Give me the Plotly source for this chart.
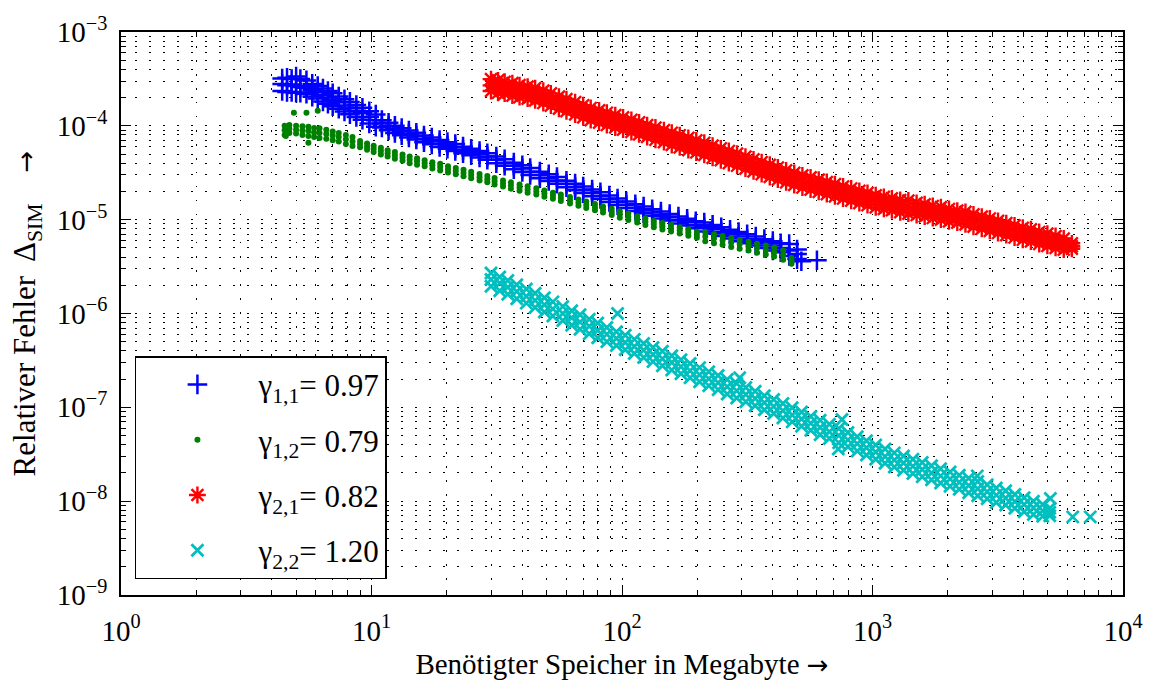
import plotly.graph_objects as go

# ---------------- data ----------------
legend_names = ["γ<sub>1,1</sub>= 0.97", "γ<sub>1,2</sub>= 0.79",
                "γ<sub>2,1</sub>= 0.82", "γ<sub>2,2</sub>= 1.20"]
series_colors = ["#0000FF", "#008000", "#FF0000", "#00BFBF"]

x_tickvals = [1, 10, 100, 1000, 10000]
x_ticktext = ["10<sup>0</sup>", "10<sup>1</sup>", "10<sup>2</sup>", "10<sup>3</sup>", "10<sup>4</sup>"]
y_tickvals = [1e-9, 1e-8, 1e-7, 1e-6, 1e-5, 1e-4, 1e-3]
y_ticktext = ["10<sup>−9</sup>", "10<sup>−8</sup>", "10<sup>−7</sup>", "10<sup>−6</sup>",
              "10<sup>−5</sup>", "10<sup>−4</sup>", "10<sup>−3</sup>"]
x_minor = [m * 10 ** k for k in range(0, 4) for m in range(2, 10)]
y_minor = [m * 10.0 ** k for k in range(-9, -3) for m in range(2, 10)]

# each row: memory x (MB), then the error values read at that x (upper / middle / lower part of the band)
blue_rows = [
    (4.4, 3.2e-4, 2.8e-4, 2.35e-4), (4.6, 3.25e-4, 2.7e-4, 2.3e-4), (4.8, 3.15e-4, 2.75e-4, 2.3e-4),
    (5.0, 3.35e-4, 2.65e-4, 2.25e-4), (5.2, 3.15e-4, 2.6e-4, 2.25e-4), (5.5, 3.05e-4, 2.55e-4, 2.2e-4),
    (5.8, 2.8e-4, 2.4e-4, 2.05e-4), (6.1, 2.65e-4, 2.3e-4, 1.95e-4), (6.4, 2.5e-4, 2.15e-4, 1.82e-4),
    (6.7, 2.35e-4, 2.0e-4, 1.72e-4), (7.0, 2.22e-4, 1.9e-4, 1.62e-4), (7.4, 2.05e-4, 1.78e-4, 1.52e-4),
    (7.8, 1.92e-4, 1.65e-4, 1.42e-4), (8.2, 1.8e-4, 1.55e-4, 1.33e-4), (8.7, 1.67e-4, 1.45e-4, 1.24e-4),
    (9.2, 1.56e-4, 1.36e-4, 1.16e-4), (9.8, 1.43e-4, 1.24e-4, 1.06e-4), (10.4, 1.32e-4, 1.15e-4, 9.8e-5),
    (11.0, 1.15e-4, 1.06e-4, 9.6e-5), (11.7, 1.08e-4, 9.9e-5, 9.0e-5), (12.4, 1.0e-4, 9.2e-5, 8.4e-5),
    (13.2, 9.45e-5, 8.7e-5, 7.95e-5), (14.1, 8.9e-5, 8.2e-5, 7.5e-5), (15.1, 8.45e-5, 7.8e-5, 7.15e-5),
    (16.2, 7.9e-5, 7.3e-5, 6.7e-5), (17.4, 7.5e-5, 6.9e-5, 6.35e-5), (18.7, 7.05e-5, 6.5e-5, 5.95e-5),
    (20.1, 6.7e-5, 6.2e-5, 5.7e-5), (21.6, 6.4e-5, 5.9e-5, 5.4e-5), (23.2, 6.0e-5, 5.55e-5, 5.1e-5),
    (25, 5.7e-5, 5.25e-5, 4.85e-5), (27, 5.4e-5, 5.0e-5, 4.6e-5), (29, 5.1e-5, 4.7e-5, 4.35e-5),
    (31.5, 4.7e-5, 4.35e-5, 4.0e-5), (34, 4.4e-5, 4.05e-5, 3.75e-5), (37, 4.05e-5, 3.75e-5, 3.45e-5),
    (40, 3.8e-5, 3.5e-5, 3.22e-5), (43, 3.55e-5, 3.25e-5, 3.0e-5), (47, 3.25e-5, 3.0e-5, 2.77e-5),
    (51, 3.05e-5, 2.8e-5, 2.58e-5), (55, 2.85e-5, 2.62e-5, 2.42e-5), (60, 2.6e-5, 2.4e-5, 2.22e-5),
    (65, 2.42e-5, 2.23e-5, 2.06e-5), (70, 2.26e-5, 2.08e-5, 1.92e-5), (76, 2.1e-5, 1.93e-5, 1.78e-5),
    (82, 1.96e-5, 1.8e-5, 1.66e-5), (89, 1.81e-5, 1.67e-5, 1.54e-5), (96, 1.68e-5, 1.55e-5, 1.43e-5),
    (104, 1.56e-5, 1.44e-5, 1.33e-5), (113, 1.46e-5, 1.34e-5, 1.24e-5), (122, 1.38e-5, 1.27e-5, 1.17e-5),
    (132, 1.29e-5, 1.19e-5, 1.1e-5), (143, 1.22e-5, 1.12e-5, 1.03e-5), (155, 1.15e-5, 1.06e-5, 9.8e-6),
    (168, 1.08e-5, 9.9e-6, 9.1e-6), (182, 1.02e-5, 9.4e-6, 8.65e-6), (197, 9.6e-6, 8.8e-6, 8.1e-6),
    (213, 9.3e-6, 8.3e-6, 7.5e-6), (230, 8.8e-6, 7.9e-6, 7.1e-6), (249, 8.3e-6, 7.4e-6, 6.7e-6),
    (270, 7.8e-6, 7.0e-6, 6.3e-6), (292, 7.4e-6, 6.6e-6, 5.9e-6), (316, 7.0e-6, 6.2e-6, 5.6e-6),
    (342, 6.6e-6, 5.9e-6, 5.3e-6), (370, 6.2e-6, 5.6e-6, 5.0e-6), (400, 5.9e-6, 5.3e-6, 4.7e-6),
    (430, 5.6e-6, 5.0e-6, 4.5e-6), (465, 5.5e-6, 4.7e-6, 4.1e-6), (500, 4.8e-6, 4.3e-6, 3.8e-6),
    (520, 3.6e-6), (600, 3.7e-6),
]

green_rows = [
    (4.5, 1.0e-4, 9.0e-5, 8.0e-5), (4.55, 7.8e-5), (4.7, 1.02e-4, 9.3e-5, 8.4e-5), (4.9, 1.38e-4),
    (5.0, 1.0e-4, 9.1e-5, 8.3e-5), (5.3, 9.9e-5, 8.9e-5, 8.0e-5), (5.5, 1.38e-4),
    (5.6, 9.8e-5, 8.8e-5, 7.8e-5, 6.6e-5), (5.9, 9.5e-5, 8.5e-5, 7.6e-5), (6.1, 1.45e-4),
    (6.2, 9.4e-5, 8.4e-5, 7.4e-5), (6.6, 9.1e-5, 8.2e-5, 7.3e-5), (7.0, 8.7e-5, 7.9e-5, 7.0e-5),
    (7.4, 8.4e-5, 7.6e-5, 6.8e-5), (7.9, 8.0e-5, 7.2e-5, 6.4e-5), (8.4, 7.6e-5, 6.8e-5, 6.1e-5),
    (9.0, 6.9e-5, 6.4e-5, 5.9e-5), (9.6, 6.5e-5, 6.0e-5, 5.55e-5), (10.2, 6.15e-5, 5.7e-5, 5.25e-5),
    (10.9, 5.85e-5, 5.4e-5, 4.95e-5), (11.6, 5.5e-5, 5.1e-5, 4.7e-5), (12.4, 5.25e-5, 4.85e-5, 4.45e-5),
    (13.3, 4.95e-5, 4.6e-5, 4.25e-5), (14.2, 4.7e-5, 4.35e-5, 4.0e-5), (15.2, 4.5e-5, 4.2e-5, 3.85e-5),
    (16.3, 4.3e-5, 4.0e-5, 3.7e-5), (17.5, 4.1e-5, 3.8e-5, 3.5e-5), (18.8, 3.95e-5, 3.65e-5, 3.35e-5),
    (20.2, 3.72e-5, 3.45e-5, 3.18e-5), (21.7, 3.55e-5, 3.3e-5, 3.05e-5), (23.3, 3.4e-5, 3.15e-5, 2.9e-5),
    (25, 3.24e-5, 3.0e-5, 2.77e-5), (27, 3.06e-5, 2.84e-5, 2.62e-5), (29, 2.92e-5, 2.7e-5, 2.5e-5),
    (31, 2.78e-5, 2.57e-5, 2.37e-5), (33.5, 2.62e-5, 2.43e-5, 2.25e-5), (36, 2.5e-5, 2.32e-5, 2.14e-5),
    (39, 2.37e-5, 2.2e-5, 2.03e-5), (42, 2.27e-5, 2.1e-5, 1.94e-5), (45.5, 2.16e-5, 2.0e-5, 1.85e-5),
    (49, 2.05e-5, 1.9e-5, 1.76e-5), (53, 1.94e-5, 1.8e-5, 1.67e-5), (57, 1.85e-5, 1.71e-5, 1.58e-5),
    (62, 1.74e-5, 1.61e-5, 1.49e-5), (67, 1.64e-5, 1.52e-5, 1.41e-5), (72, 1.56e-5, 1.44e-5, 1.33e-5),
    (78, 1.47e-5, 1.36e-5, 1.26e-5), (84, 1.38e-5, 1.28e-5, 1.19e-5), (91, 1.31e-5, 1.21e-5, 1.12e-5),
    (98, 1.23e-5, 1.14e-5, 1.05e-5), (106, 1.16e-5, 1.07e-5, 9.9e-6), (115, 1.09e-5, 1.01e-5, 9.35e-6),
    (124, 1.03e-5, 9.5e-6, 8.8e-6), (134, 9.7e-6, 9.0e-6, 8.3e-6), (145, 9.2e-6, 8.5e-6, 7.85e-6),
    (157, 8.75e-6, 8.1e-6, 7.5e-6), (170, 8.3e-6, 7.7e-6, 7.1e-6), (184, 7.9e-6, 7.3e-6, 6.75e-6),
    (199, 7.45e-6, 6.9e-6, 6.4e-6), (215, 7.4e-6, 6.6e-6, 5.9e-6), (233, 7.0e-6, 6.3e-6, 5.6e-6),
    (252, 6.7e-6, 6.0e-6, 5.4e-6), (273, 6.4e-6, 5.7e-6, 5.1e-6), (295, 6.1e-6, 5.5e-6, 4.9e-6),
    (320, 5.8e-6, 5.2e-6, 4.7e-6), (346, 5.55e-6, 5.0e-6, 4.45e-6), (375, 5.3e-6, 4.75e-6, 4.25e-6),
    (405, 5.05e-6, 4.5e-6, 4.05e-6), (440, 4.7e-6, 4.2e-6, 3.75e-6), (475, 3.9e-6, 3.6e-6, 3.4e-6),
]

red_rows = [
    (30, 3.15e-4, 2.7e-4, 2.35e-4), (32, 3.05e-4, 2.65e-4, 2.25e-4), (34, 2.95e-4, 2.55e-4, 2.2e-4),
    (36.5, 2.85e-4, 2.45e-4, 2.1e-4), (39, 2.72e-4, 2.35e-4, 2.02e-4), (42, 2.62e-4, 2.25e-4, 1.95e-4),
    (45, 2.52e-4, 2.17e-4, 1.87e-4), (48.5, 2.37e-4, 2.04e-4, 1.75e-4), (52, 2.22e-4, 1.9e-4, 1.64e-4),
    (56, 2.05e-4, 1.77e-4, 1.52e-4), (60, 1.93e-4, 1.66e-4, 1.43e-4), (65, 1.79e-4, 1.54e-4, 1.32e-4),
    (70, 1.66e-4, 1.43e-4, 1.23e-4), (75, 1.55e-4, 1.34e-4, 1.15e-4), (81, 1.46e-4, 1.26e-4, 1.08e-4),
    (87, 1.38e-4, 1.19e-4, 1.02e-4), (94, 1.3e-4, 1.12e-4, 9.6e-5), (101, 1.23e-4, 1.06e-4, 9.1e-5),
    (109, 1.16e-4, 1.0e-4, 8.6e-5), (117, 1.09e-4, 9.4e-5, 8.1e-5), (126, 1.02e-4, 8.8e-5, 7.6e-5),
    (136, 9.6e-5, 8.3e-5, 7.1e-5), (147, 9.0e-5, 7.75e-5, 6.7e-5), (158, 8.45e-5, 7.3e-5, 6.25e-5),
    (170, 7.95e-5, 6.85e-5, 5.9e-5), (184, 7.45e-5, 6.4e-5, 5.5e-5), (198, 7.0e-5, 6.0e-5, 5.2e-5),
    (213, 6.6e-5, 5.65e-5, 4.9e-5), (230, 6.15e-5, 5.3e-5, 4.55e-5), (248, 5.75e-5, 4.95e-5, 4.3e-5),
    (267, 5.4e-5, 4.65e-5, 4.0e-5), (288, 5.05e-5, 4.35e-5, 3.75e-5), (311, 4.7e-5, 4.05e-5, 3.5e-5),
    (335, 4.4e-5, 3.8e-5, 3.27e-5), (361, 4.1e-5, 3.55e-5, 3.05e-5), (389, 3.85e-5, 3.32e-5, 2.85e-5),
    (419, 3.6e-5, 3.1e-5, 2.67e-5), (452, 3.36e-5, 2.9e-5, 2.5e-5), (487, 3.15e-5, 2.72e-5, 2.34e-5),
    (525, 2.97e-5, 2.56e-5, 2.2e-5), (566, 2.82e-5, 2.43e-5, 2.09e-5), (610, 2.67e-5, 2.3e-5, 1.98e-5),
    (657, 2.52e-5, 2.17e-5, 1.87e-5), (708, 2.39e-5, 2.06e-5, 1.77e-5), (763, 2.26e-5, 1.95e-5, 1.68e-5),
    (822, 2.15e-5, 1.85e-5, 1.59e-5), (886, 2.03e-5, 1.75e-5, 1.5e-5), (955, 1.93e-5, 1.66e-5, 1.43e-5),
    (1030, 1.82e-5, 1.57e-5, 1.35e-5), (1110, 1.75e-5, 1.51e-5, 1.3e-5), (1195, 1.69e-5, 1.46e-5, 1.26e-5),
    (1290, 1.62e-5, 1.4e-5, 1.2e-5), (1390, 1.6e-5, 1.36e-5, 1.16e-5), (1500, 1.51e-5, 1.3e-5, 1.12e-5),
    (1615, 1.46e-5, 1.26e-5, 1.08e-5), (1740, 1.4e-5, 1.21e-5, 1.04e-5), (1875, 1.36e-5, 1.17e-5, 1.0e-5),
    (2020, 1.3e-5, 1.12e-5, 9.6e-6), (2180, 1.25e-5, 1.08e-5, 9.3e-6), (2350, 1.21e-5, 1.04e-5, 8.9e-6),
    (2530, 1.14e-5, 9.8e-6, 8.4e-6), (2730, 1.08e-5, 9.3e-6, 8.0e-6), (2940, 1.03e-5, 8.85e-6, 7.6e-6),
    (3170, 9.7e-6, 8.4e-6, 7.2e-6), (3420, 9.2e-6, 7.95e-6, 6.85e-6), (3690, 8.7e-6, 7.5e-6, 6.45e-6),
    (3980, 8.2e-6, 7.1e-6, 6.1e-6), (4290, 7.9e-6, 6.8e-6, 5.85e-6), (4630, 7.4e-6, 6.4e-6, 5.5e-6),
    (4990, 7.1e-6, 6.1e-6, 5.25e-6), (5380, 6.7e-6, 5.8e-6, 5.0e-6), (5800, 6.3e-6, 5.5e-6, 4.8e-6),
    (6250, 5.6e-6, 5.2e-6, 4.9e-6),
]

cyan_rows = [
    (30, 2.7e-6, 2.3e-6, 1.95e-6), (32.5, 2.45e-6, 2.1e-6, 1.75e-6), (35, 2.25e-6, 1.9e-6, 1.6e-6),
    (38, 2.03e-6, 1.72e-6, 1.44e-6), (41.5, 1.82e-6, 1.53e-6, 1.29e-6), (45, 1.64e-6, 1.38e-6, 1.16e-6),
    (49, 1.47e-6, 1.24e-6, 1.04e-6), (53, 1.33e-6, 1.12e-6, 9.4e-7), (58, 1.19e-6, 1.0e-6, 8.4e-7),
    (63, 1.07e-6, 9.0e-7, 7.5e-7), (68, 9.7e-7, 8.1e-7, 6.8e-7), (74, 8.7e-7, 7.3e-7, 6.1e-7),
    (80, 7.9e-7, 6.6e-7, 5.5e-7), (87, 7.1e-7, 6.0e-7, 5.0e-7), (95, 6.4e-7, 5.4e-7, 4.55e-7),
    (96, 1.0e-6), (103, 5.85e-7, 4.9e-7, 4.1e-7), (112, 5.3e-7, 4.45e-7, 3.75e-7),
    (122, 4.8e-7, 4.05e-7, 3.4e-7), (133, 4.35e-7, 3.65e-7, 3.07e-7), (145, 3.95e-7, 3.3e-7, 2.78e-7),
    (158, 3.55e-7, 3.0e-7, 2.5e-7), (172, 3.22e-7, 2.7e-7, 2.28e-7), (187, 2.93e-7, 2.46e-7, 2.07e-7),
    (204, 2.65e-7, 2.23e-7, 1.87e-7), (222, 2.4e-7, 2.02e-7, 1.7e-7), (242, 2.18e-7, 1.83e-7, 1.54e-7),
    (263, 1.98e-7, 1.66e-7, 1.39e-7), (287, 1.79e-7, 1.5e-7, 1.26e-7), (295, 2.07e-7),
    (312, 1.63e-7, 1.37e-7, 1.15e-7), (340, 1.48e-7, 1.24e-7, 1.04e-7), (370, 1.33e-7, 1.12e-7, 9.4e-8),
    (403, 1.21e-7, 1.02e-7, 8.6e-8), (439, 1.1e-7, 9.2e-8, 7.7e-8), (478, 9.9e-8, 8.3e-8, 7.0e-8),
    (521, 8.9e-8, 7.5e-8, 6.3e-8), (567, 8.0e-8, 6.75e-8, 5.7e-8), (618, 7.3e-8, 6.1e-8, 5.1e-8),
    (673, 6.6e-8, 5.5e-8, 4.65e-8), (730, 3.6e-8), (733, 5.95e-8, 5.0e-8, 4.2e-8), (755, 7.4e-8),
    (798, 5.4e-8, 4.5e-8, 3.8e-8), (869, 4.85e-8, 4.1e-8, 3.43e-8), (946, 4.4e-8, 3.7e-8, 3.1e-8),
    (1030, 3.97e-8, 3.34e-8, 2.8e-8), (1122, 3.6e-8, 3.0e-8, 2.54e-8), (1222, 3.27e-8, 2.75e-8, 2.31e-8),
    (1330, 3.03e-8, 2.55e-8, 2.14e-8), (1450, 2.8e-8, 2.35e-8, 1.97e-8), (1580, 2.58e-8, 2.17e-8, 1.82e-8),
    (1720, 2.39e-8, 2.0e-8, 1.69e-8), (1870, 2.21e-8, 1.86e-8, 1.56e-8), (2040, 2.05e-8, 1.72e-8, 1.44e-8),
    (2220, 1.89e-8, 1.59e-8, 1.34e-8), (2420, 1.75e-8, 1.47e-8, 1.23e-8), (2620, 1.86e-8),
    (2630, 1.62e-8, 1.36e-8, 1.14e-8), (2870, 1.5e-8, 1.26e-8, 1.06e-8), (3120, 1.38e-8, 1.16e-8, 9.7e-9),
    (3400, 1.29e-8, 1.08e-8, 9.1e-9), (3700, 1.18e-8, 9.9e-9, 8.4e-9), (4030, 1.09e-8, 9.2e-9, 7.7e-9),
    (4390, 1.0e-8, 8.5e-9, 7.2e-9), (4780, 9.2e-9, 7.9e-9, 6.9e-9), (5100, 8.4e-9, 7.6e-9, 7.0e-9),
    (5130, 1.07e-8), (6300, 6.8e-9), (7400, 6.8e-9),
]


def expand(rows):
    xs, ys = [], []
    for row in rows:
        for val in row[1:]:
            xs.append(row[0])
            ys.append(val)
    return xs, ys


# ---------------- figure ----------------
FONT = "Liberation Serif"
ARROW = "<span style='font-family:DejaVu Sans; font-size:26px'>→</span>"
all_rows = [blue_rows, green_rows, red_rows, cyan_rows]
marker_styles = [
    dict(symbol="cross-thin", size=14, line=dict(width=2.5)),
    dict(symbol="circle", size=6, line=dict(width=0)),
    dict(symbol="asterisk", size=14, line=dict(width=2.4)),
    dict(symbol="x-thin", size=12, line=dict(width=2.8)),
]

fig = go.Figure()
for i, rows in enumerate(all_rows):
    xs, ys = expand(rows)
    ms = dict(marker_styles[i])
    ms["color"] = series_colors[i]
    ms["line"] = dict(ms["line"], color=series_colors[i])
    fig.add_trace(go.Scatter(
        x=xs, y=ys, mode="markers", name=legend_names[i], legendgroup=f"g{i}",
        marker=ms, hoverinfo="skip"))

grid_common = dict(gridcolor="black", gridwidth=1, griddash="1.5px,12.5px")
axis_common = dict(
    type="log", showline=True, linecolor="black", linewidth=1.5, mirror="allticks",
    ticks="inside", ticklen=10, tickwidth=1.2, tickcolor="black",
    showgrid=True, zeroline=False,
    tickfont=dict(family=FONT, size=29, color="black"),
    **grid_common,
)

fig.update_xaxes(
    range=[0, 4], tickmode="array", tickvals=x_tickvals, ticktext=x_ticktext,
    ticklabelstandoff=9,
    minor=dict(tickmode="array", tickvals=x_minor, ticks="inside", ticklen=5,
               tickcolor="black", tickwidth=1, showgrid=True, **grid_common),
    title=dict(text="Benötigter Speicher in Megabyte " + ARROW,
               font=dict(family=FONT, size=29, color="black"), standoff=8),
    **axis_common)
fig.update_yaxes(
    range=[-9, -3], tickmode="array", tickvals=y_tickvals, ticktext=y_ticktext,
    ticklabelstandoff=6,
    minor=dict(tickmode="array", tickvals=y_minor, ticks="inside", ticklen=5,
               tickcolor="black", tickwidth=1, showgrid=True, **grid_common),
    title=dict(text="Relativer Fehler \u2009Δ<sub>SIM</sub>\u2003" + ARROW,
               font=dict(family=FONT, size=31, color="black"), standoff=12),
    **axis_common)

fig.update_layout(
    width=1155, height=689,
    margin=dict(l=121, r=26, t=30, b=94, pad=0),
    paper_bgcolor="white", plot_bgcolor="white",
    font=dict(family=FONT, size=28, color="black"),
    showlegend=True,
    legend=dict(x=0.0139, y=0.028, xanchor="left", yanchor="bottom",
                bgcolor="white", bordercolor="black", borderwidth=1.5,
                font=dict(family=FONT, size=31, color="black"),
                itemwidth=112, tracegroupgap=12, itemsizing="trace"),
)

fig.write_html("out.html")
